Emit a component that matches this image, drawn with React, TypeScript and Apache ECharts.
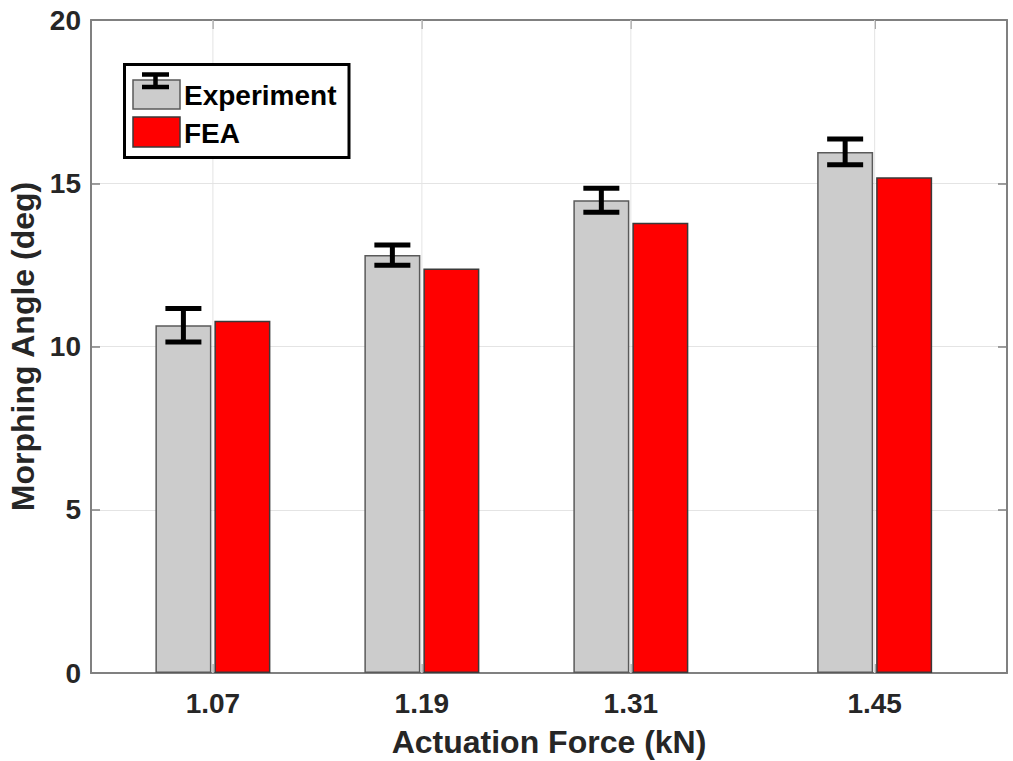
import React, { useEffect, useRef } from "react";
import * as echarts from "echarts";

// ---- data ----
const forces = [1.07, 1.19, 1.31, 1.45]; // kN, x positions / tick labels
const experiment = [10.65, 12.8, 14.48, 15.96]; // deg
const experimentErr = [0.515, 0.31, 0.365, 0.395]; // deg (half-range)
const fea = [10.79, 12.39, 13.79, 15.18]; // deg
const yTicks = [0, 5, 10, 15, 20];

const X_MIN = 1.0;
const X_MAX = 1.526;

// ---- styles ----
const FONT = '"Liberation Sans", Arial, Helvetica, sans-serif';
const TEXT = "#262626";
const AXIS = "#808080";
const GRIDC = "#e4e4e4";
const BAR_W = 56;
const BAR_GAP_PX = 3;

export default function App() {
  const ref = useRef<HTMLDivElement>(null);

  useEffect(() => {
    if (!ref.current) return;
    const chart = echarts.init(ref.current, undefined, { renderer: "svg" });

    const yMin = yTicks[0];
    const yMax = yTicks[yTicks.length - 1];
    const yInt = yTicks[1] - yTicks[0];
    const errOffset = -(BAR_W + BAR_GAP_PX) / 2;
    const LZ = 100;

    const option: any = {
      animation: false,
      backgroundColor: "#ffffff",
      grid: {
        left: 91,
        top: 20,
        right: 6,
        bottom: 88,
        containLabel: false,
        outerBoundsMode: "none",
      },
      xAxis: [
        {
          type: "value",
          min: X_MIN,
          max: X_MAX,
          position: "bottom",
          name: "Actuation Force (kN)",
          nameLocation: "middle",
          nameGap: 53,
          nameTextStyle: { fontFamily: FONT, fontWeight: "bold", fontSize: 32, color: TEXT },
          axisLine: { show: true, onZero: false, lineStyle: { color: AXIS, width: 2 } },
          axisTick: { show: true, inside: true, length: 9, customValues: forces, lineStyle: { color: AXIS, width: 1.5 } },
          axisLabel: {
            show: true,
            customValues: forces,
            margin: 16,
            fontFamily: FONT,
            fontWeight: "bold",
            fontSize: 28,
            color: TEXT,
            formatter: (v: number) => v.toFixed(2),
          },
          splitLine: { show: false },
        },
        {
          type: "value",
          min: X_MIN,
          max: X_MAX,
          position: "top",
          axisLine: { show: true, onZero: false, lineStyle: { color: AXIS, width: 2 } },
          axisTick: { show: true, inside: true, length: 9, customValues: forces, lineStyle: { color: AXIS, width: 1.5 } },
          axisLabel: { show: false, customValues: forces },
          splitLine: { show: false },
        },
      ],
      yAxis: [
        {
          type: "value",
          min: yMin,
          max: yMax,
          interval: yInt,
          position: "left",
          name: "Morphing Angle (deg)",
          nameLocation: "middle",
          nameGap: 50,
          nameTextStyle: { fontFamily: FONT, fontWeight: "bold", fontSize: 32, color: TEXT },
          axisLine: { show: true, onZero: false, lineStyle: { color: AXIS, width: 2 } },
          axisTick: { show: true, inside: true, length: 9, lineStyle: { color: AXIS, width: 1.5 } },
          axisLabel: { margin: 10, fontFamily: FONT, fontWeight: "bold", fontSize: 28, color: TEXT },
          splitLine: { show: true, lineStyle: { color: GRIDC, width: 1 } },
        },
        {
          type: "value",
          min: yMin,
          max: yMax,
          interval: yInt,
          position: "right",
          axisLine: { show: true, onZero: false, lineStyle: { color: AXIS, width: 2 } },
          axisTick: { show: true, inside: true, length: 9, lineStyle: { color: AXIS, width: 1.5 } },
          axisLabel: { show: false },
          splitLine: { show: false },
        },
      ],
      series: [
        {
          name: "gridX",
          type: "custom",
          xAxisIndex: 0,
          yAxisIndex: 0,
          z: 1,
          silent: true,
          data: forces.map((x) => [x]),
          renderItem: (_p: any, api: any) => {
            const x = api.value(0);
            const t = api.coord([x, yMax]);
            const b = api.coord([x, yMin]);
            return {
              type: "line",
              shape: { x1: t[0], y1: t[1], x2: b[0], y2: b[1] },
              style: { stroke: GRIDC, lineWidth: 1 },
            };
          },
        },
        {
          name: "Experiment",
          type: "bar",
          xAxisIndex: 0,
          yAxisIndex: 0,
          barWidth: BAR_W,
          barGap: (BAR_GAP_PX / BAR_W) * 100 + "%",
          z: 2,
          data: forces.map((x, i) => [x, experiment[i]]),
          itemStyle: { color: "#cccccc", borderColor: "#5a5a5a", borderWidth: 1.5 },
        },
        {
          name: "FEA",
          type: "bar",
          xAxisIndex: 0,
          yAxisIndex: 0,
          barWidth: BAR_W,
          barGap: (BAR_GAP_PX / BAR_W) * 100 + "%",
          z: 2,
          data: forces.map((x, i) => [x, fea[i]]),
          itemStyle: { color: "#ff0000", borderColor: "#3a3a3a", borderWidth: 1.5 },
        },
        {
          name: "ExperimentError",
          type: "custom",
          xAxisIndex: 0,
          yAxisIndex: 0,
          z: 5,
          data: forces.map((x, i) => [x, experiment[i] - experimentErr[i], experiment[i] + experimentErr[i]]),
          renderItem: (_p: any, api: any) => {
            const x = api.value(0);
            const lo = api.coord([x, api.value(1)]);
            const hi = api.coord([x, api.value(2)]);
            const cx = lo[0] + errOffset;
            const hw = 18;
            const st = { stroke: "#000000", lineWidth: 5 };
            return {
              type: "group",
              children: [
                { type: "line", shape: { x1: cx, y1: hi[1], x2: cx, y2: lo[1] }, style: st },
                { type: "line", shape: { x1: cx - hw, y1: hi[1], x2: cx + hw, y2: hi[1] }, style: st },
                { type: "line", shape: { x1: cx - hw, y1: lo[1], x2: cx + hw, y2: lo[1] }, style: st },
              ],
            };
          },
        },
      ],
      graphic: [
        {
          type: "rect",
          z: LZ,
          shape: { x: 124.5, y: 64.5, width: 224.5, height: 93 },
          style: { fill: "#ffffff", stroke: "#000000", lineWidth: 3 },
        },
        {
          type: "rect",
          z: LZ + 1,
          shape: { x: 133, y: 80, width: 47, height: 29 },
          style: { fill: "#cccccc", stroke: "#5a5a5a", lineWidth: 1.5 },
        },
        { type: "line", z: LZ + 2, shape: { x1: 155.5, y1: 74.5, x2: 155.5, y2: 87 }, style: { stroke: "#000", lineWidth: 4.5 } },
        { type: "line", z: LZ + 2, shape: { x1: 142, y1: 74.5, x2: 169, y2: 74.5 }, style: { stroke: "#000", lineWidth: 4.5 } },
        { type: "line", z: LZ + 2, shape: { x1: 142, y1: 87, x2: 169, y2: 87 }, style: { stroke: "#000", lineWidth: 4.5 } },
        {
          type: "rect",
          z: LZ + 1,
          shape: { x: 133, y: 117, width: 47, height: 30 },
          style: { fill: "#ff0000", stroke: "#3a3a3a", lineWidth: 1.5 },
        },
        {
          type: "text",
          z: LZ + 2,
          x: 184,
          y: 95.5,
          style: {
            text: "Experiment",
            fontFamily: FONT,
            fontWeight: "bold",
            fontSize: 28,
            fill: "#000000",
            verticalAlign: "middle",
            align: "left",
          },
        },
        {
          type: "text",
          z: LZ + 2,
          x: 184,
          y: 133.5,
          style: {
            text: "FEA",
            fontFamily: FONT,
            fontWeight: "bold",
            fontSize: 28,
            fill: "#000000",
            verticalAlign: "middle",
            align: "left",
          },
        },
      ],
    };

    chart.setOption(option);
    return () => chart.dispose();
  }, []);

  return (
    <div
      ref={ref}
      style={{ position: "fixed", left: 0, top: 0, width: 1013, height: 761, background: "#fff" }}
    />
  );
}
